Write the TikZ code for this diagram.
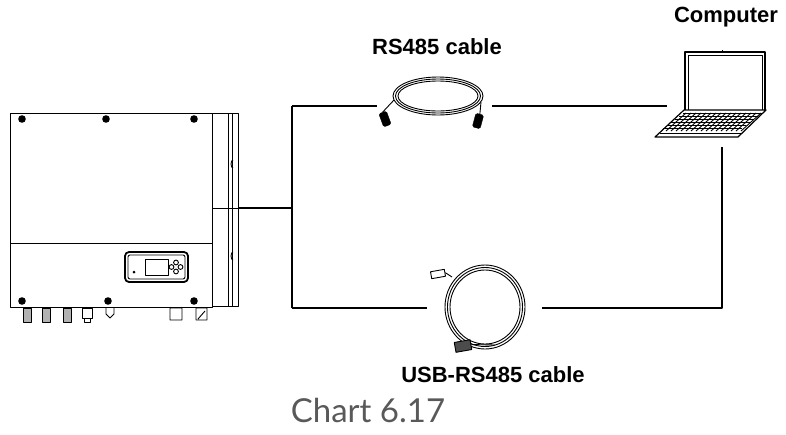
\documentclass[tikz,border=0pt]{standalone}
\usepackage{fontspec}
\setmainfont{Liberation Sans}
\newfontfamily\chartfont{Lato}
\begin{document}
\begin{tikzpicture}[x=1pt,y=-1pt,line join=round,
  wire/.style={line width=2.4pt},
  ln/.style={line width=0.9pt},
  lbl/.style={font=\bfseries\fontsize{22}{26}\selectfont},
  screw/.style={fill=black,draw=none}]
\useasboundingbox (0,0) rectangle (786,434);
% inverter
\node[draw,ln,minimum width=202,minimum height=194,inner sep=0,anchor=north west] (inv) at (10,113) {};
\draw[ln] (10,243) -- (212,243);
\draw[ln] (212,113) -- (238,113) -- (238,306) -- (212,306);
\draw[ln] (228,113) -- (228,306) (232,113) -- (232,306) (212,208) -- (238,208);
\draw[ln] (233,160) arc (-90:90:-2 and 4) (233,252) arc (-90:90:-2 and 4);
\foreach \a/\b in {22/119,106/119,194/119,22/301,108/301,194/301} \fill[screw] (\a,\b) circle (3.8);
\draw[line width=1.8pt,rounded corners=4] (125,252) rectangle (188,282);
\draw[ln,rounded corners=2] (128,255) rectangle (185,279);
\draw[ln] (145,259) rectangle (168,275);
\fill (134,272) circle (1.5);
\foreach \a/\b in {176/262.5,176/271.5,171.5/267,180.5/267} \draw[ln] (\a,\b) circle (2.4);
\foreach \x in {27,46,67} {\draw[ln,fill=gray!60] (\x-4,308) rectangle (\x+4,322);}
\draw[ln] (82,308) rectangle (92,318) (84,318) rectangle (90,322);
\draw[ln] (106,308) -- (106,314) -- (110,318) -- (114,314) -- (114,308);
\draw[ln] (170,308) rectangle (182,320) (196,308) rectangle (207,320) (198,319) -- (205,311);
% wires
\coordinate (j) at (292,208);
\draw[wire] (238,208) -- (j);
\draw[wire] (292,106) -- (292,308);
\draw[wire] (292,106) -- (377,106) (492,106) -- (667,106);
\draw[wire] (292,308) -- (427,308) (542,308) -- (722,308) -- (722,147);
% RS485 cable
\foreach \r in {0,2.5,5} \draw[ln] (438,96) ellipse ({45-\r} and {19-\r*0.8});
\node[draw,fill=black,rounded corners=1.5,minimum width=8,minimum height=14,inner sep=0,rotate=20] (p1) at (385,119) {};
\node[draw,fill=black,rounded corners=1.5,minimum width=8,minimum height=14,inner sep=0,rotate=-15] (p2) at (478,121) {};
\draw[ln] (p1.north) -- (394,100) (p2.north) -- (481,102);
% USB cable
\foreach \r in {0,2.5,5} \draw[ln] (485,307) ellipse ({40-\r} and {42-\r});
\node[draw,ln,minimum width=14,minimum height=7,inner sep=0,rotate=10] (u1) at (438,274) {};
\draw[ln] (u1.east) -- (452,277);
\node[draw,ln,fill=black!70,minimum width=16,minimum height=10,inner sep=0,rotate=10] (u2) at (463,346) {};
\draw[ln] (u2.east) -- (495,345);
% laptop
\draw[line width=1.2pt] (685,110) -- (685,52) -- (765,52) -- (765,110);
\draw[ln] (688,110) -- (688,55) -- (762,55) -- (762,110);
\draw[ln] (722,52) -- (722,50);
\draw[line width=1.2pt] (684,110) -- (766,110) -- (738,137) -- (655,137) -- cycle;
\draw[ln] (660,133) -- (741,133);
\foreach \i in {0,...,5} \draw[ln] ({683-\i*4},{113+\i*3}) -- ({762-\i*4},{113+\i*3});
\foreach \i in {0,...,15} \draw[ln] ({686+\i*5},113) -- ({666+\i*5},131);
% labels
\node[lbl] (t1) at (726,17) {Computer};
\node[lbl] (t2) at (437,47) {RS485 cable};
\node[lbl] (t3) at (493,375) {USB-RS485 cable};
\node[font=\chartfont\fontsize{33}{36}\selectfont,text=black!65] (t4) at (368,410) {Chart 6.17};
\end{tikzpicture}
\end{document}
